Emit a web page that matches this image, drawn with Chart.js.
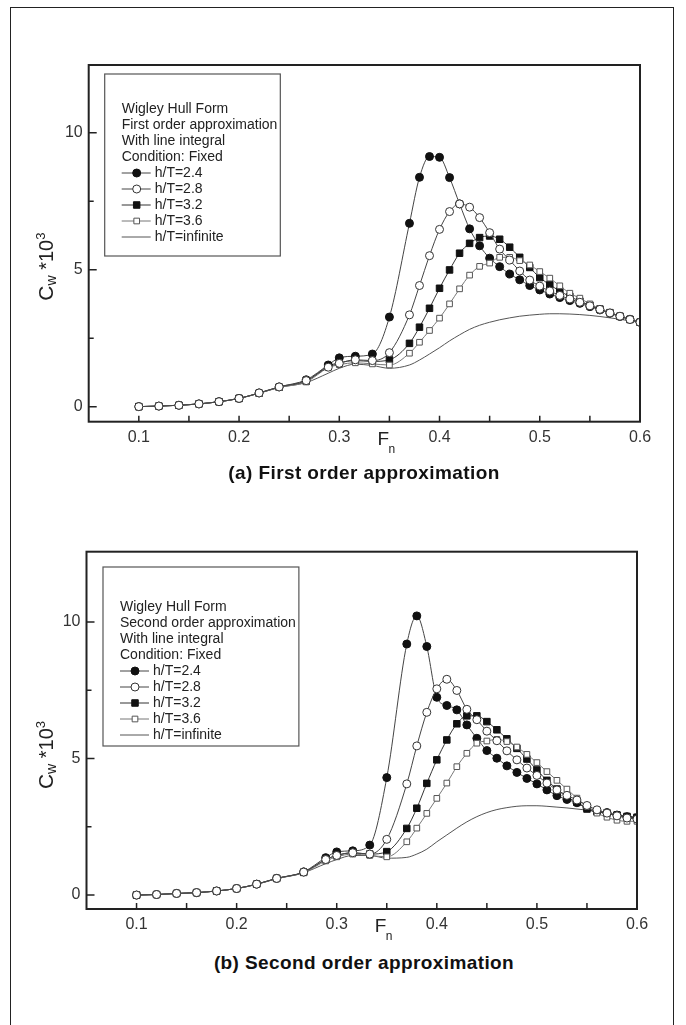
<!DOCTYPE html>
<html>
<head>
<meta charset="utf-8">
<script src="https://cdn.jsdelivr.net/npm/chart.js@4/dist/chart.umd.min.js"></script>
<style>
  body { margin: 0; background: #fff; }
  #page { position: relative; width: 686px; height: 1025px; overflow: hidden; background: #fff; }
  #frame { position: absolute; left: 10px; top: 7px; width: 662px; height: 1040px;
           border: 1.5px solid #222; border-bottom: none; }
  canvas { position: absolute; left: 0; }
  .caption { position: absolute; left: 88px; width: 552px; text-align: center; letter-spacing: 0.4px;
             font: bold 19px "Liberation Sans", Arial, sans-serif; color: #111; line-height: 22px; }
</style>
</head>
<body>
<div id="page">
  <div id="frame"></div>
  <canvas id="chartA" width="686" height="470" style="top:0"></canvas>
  <canvas id="chartB" width="686" height="470" style="top:480px"></canvas>
  <div class="caption" style="top:462px">(a) First order approximation</div>
  <div class="caption" style="top:952px">(b) Second order approximation</div>
</div>
<script>
// Froude numbers
const fn = [0.10, 0.12, 0.14, 0.16, 0.18, 0.20, 0.22, 0.24, 0.267, 0.289, 0.30, 0.316, 0.333, 0.35,
  0.37, 0.38, 0.39, 0.40, 0.41, 0.42, 0.43, 0.44, 0.45, 0.46, 0.47, 0.48, 0.49, 0.50,
  0.51, 0.52, 0.53, 0.54, 0.55, 0.56, 0.57, 0.58, 0.59, 0.60];

const seriesNames = ['h/T=2.4', 'h/T=2.8', 'h/T=3.2', 'h/T=3.6', 'h/T=infinite'];

// (a) first order approximation, Cw*10^3
const first24 = [0.00, 0.02, 0.05, 0.10, 0.18, 0.30, 0.50, 0.72, 0.98, 1.52, 1.78, 1.84, 1.92, 3.27,
  6.69, 8.37, 9.13, 9.10, 8.36, 7.40, 6.49, 5.87, 5.42, 5.11, 4.84, 4.63, 4.42, 4.26,
  4.11, 3.98, 3.87, 3.77, 3.65, 3.53, 3.41, 3.29, 3.19, 3.08];
const first28 = [0.00, 0.02, 0.05, 0.10, 0.18, 0.30, 0.50, 0.72, 0.95, 1.44, 1.58, 1.71, 1.68, 1.97,
  3.35, 4.42, 5.51, 6.47, 7.12, 7.40, 7.28, 6.90, 6.35, 5.75, 5.35, 4.95, 4.62, 4.40,
  4.22, 4.06, 3.93, 3.81, 3.68, 3.55, 3.42, 3.30, 3.18, 3.08];
const first32 = [0.00, 0.02, 0.05, 0.10, 0.18, 0.30, 0.49, 0.71, 0.93, 1.48, 1.60, 1.68, 1.65, 1.71,
  2.31, 2.90, 3.59, 4.32, 4.99, 5.60, 5.96, 6.17, 6.23, 6.11, 5.82, 5.45, 5.08, 4.71,
  4.45, 4.22, 4.02, 3.85, 3.70, 3.56, 3.43, 3.30, 3.18, 3.08];
const first36 = [0.00, 0.02, 0.05, 0.10, 0.18, 0.30, 0.49, 0.70, 0.90, 1.42, 1.53, 1.60, 1.56, 1.52,
  1.95, 2.35, 2.78, 3.23, 3.75, 4.30, 4.80, 5.12, 5.24, 5.45, 5.45, 5.33, 5.17, 4.93,
  4.69, 4.41, 4.14, 3.96, 3.75, 3.57, 3.41, 3.29, 3.18, 3.08];
const firstInf = [0.00, 0.02, 0.05, 0.10, 0.18, 0.30, 0.49, 0.70, 0.88, 1.22, 1.40, 1.55, 1.50, 1.40,
  1.52, 1.70, 1.92, 2.15, 2.40, 2.62, 2.82, 2.97, 3.08, 3.17, 3.24, 3.30, 3.34, 3.37,
  3.39, 3.39, 3.38, 3.36, 3.33, 3.29, 3.24, 3.19, 3.13, 3.07];

// (b) second order approximation
const second24 = [0.00, 0.02, 0.06, 0.09, 0.15, 0.24, 0.40, 0.61, 0.85, 1.37, 1.58, 1.62, 1.83, 4.30,
  9.19, 10.22, 9.10, 7.24, 6.94, 6.78, 6.23, 5.74, 5.29, 5.01, 4.73, 4.49, 4.27, 4.07,
  3.85, 3.64, 3.50, 3.38, 3.20, 3.08, 3.02, 2.93, 2.87, 2.83];
const second28 = [0.00, 0.02, 0.06, 0.09, 0.15, 0.24, 0.40, 0.61, 0.84, 1.30, 1.45, 1.55, 1.50, 2.04,
  4.07, 5.46, 6.69, 7.55, 7.90, 7.49, 6.80, 6.42, 6.00, 5.65, 5.28, 4.95, 4.65, 4.38,
  4.10, 3.85, 3.65, 3.48, 3.28, 3.12, 3.00, 2.90, 2.82, 2.78];
const second32 = [0.00, 0.02, 0.06, 0.09, 0.15, 0.24, 0.40, 0.61, 0.83, 1.30, 1.45, 1.55, 1.50, 1.59,
  2.44, 3.18, 4.09, 4.95, 5.68, 6.27, 6.56, 6.56, 6.35, 6.05, 5.72, 5.37, 4.98, 4.58,
  4.20, 3.88, 3.58, 3.40, 3.15, 3.05, 3.00, 2.93, 2.88, 2.85];
const second36 = [0.00, 0.02, 0.06, 0.09, 0.15, 0.24, 0.39, 0.60, 0.82, 1.25, 1.40, 1.50, 1.45, 1.40,
  1.95, 2.45, 2.99, 3.54, 4.10, 4.70, 5.19, 5.56, 5.64, 5.70, 5.62, 5.42, 5.15, 4.85,
  4.52, 4.20, 3.88, 3.55, 3.25, 3.00, 2.85, 2.74, 2.70, 2.70];
const secondInf = [0.00, 0.02, 0.05, 0.09, 0.15, 0.24, 0.39, 0.60, 0.82, 1.15, 1.30, 1.45, 1.45, 1.35,
  1.38, 1.50, 1.68, 1.95, 2.20, 2.45, 2.68, 2.87, 3.02, 3.13, 3.20, 3.25, 3.27, 3.27,
  3.25, 3.22, 3.19, 3.15, 3.11, 3.05, 2.98, 2.92, 2.86, 2.80];

const headerA = ['Wigley Hull Form', 'First order approximation', 'With line integral', 'Condition: Fixed'];
const headerB = ['Wigley Hull Form', 'Second order approximation', 'With line integral', 'Condition: Fixed'];

// tick positions (every one gets a tick mark, labelled ones get text)
const xTicks = [0.05, 0.10, 0.15, 0.20, 0.25, 0.30, 0.35, 0.40, 0.45, 0.50, 0.55, 0.60];
const xTickLabels = ['0.1', '0.2', '0.3', '0.4', '0.5', '0.6'];
const yTicks = [0, 2.5, 5, 7.5, 10];
const yTickLabels = ['0', '5', '10'];

const FONT = '"Liberation Sans", Arial, sans-serif';

// marker look per series
const styles = [
  { pointStyle: 'circle', pointRadius: 4, fill: '#111', stroke: '#111', line: '#444', order: 3 },
  { pointStyle: 'circle', pointRadius: 4, fill: '#fff', stroke: '#333', line: '#444', order: 1 },
  { pointStyle: 'rect', pointRadius: 4.6, fill: '#111', stroke: '#111', line: '#333', order: 4 },
  { pointStyle: 'rect', pointRadius: 4, fill: '#fff', stroke: '#555', line: '#777', order: 2 },
  { pointStyle: false, pointRadius: 0, fill: '#fff', stroke: '#444', line: '#555', order: 5 }
];

function marker(ctx, st, x, y) {
  if (!st.pointRadius) return;
  ctx.beginPath();
  if (st.pointStyle === 'circle') {
    ctx.arc(x, y, st.pointRadius, 0, Math.PI * 2);
  } else {
    const s = st.pointRadius / Math.SQRT2;
    ctx.rect(x - s, y - s, 2 * s, 2 * s);
  }
  ctx.fillStyle = st.fill;
  ctx.fill();
  ctx.lineWidth = 1;
  ctx.strokeStyle = st.stroke;
  ctx.stroke();
}

// frame, inward ticks, axis titles
const frameTicks = {
  id: 'frameTicks',
  afterDraw(chart) {
    const { ctx, chartArea: a, scales: { x, y } } = chart;
    ctx.save();
    ctx.strokeStyle = '#222';
    ctx.lineWidth = 2;
    ctx.strokeRect(a.left, a.top, a.right - a.left, a.bottom - a.top);
    ctx.lineWidth = 1.5;
    ctx.beginPath();
    x.ticks.forEach(t => {
      if (t.value <= 0.051 || t.value >= 0.599) return;
      const px = x.getPixelForValue(t.value);
      ctx.moveTo(px, a.bottom);
      ctx.lineTo(px, a.bottom - 6);
    });
    y.ticks.forEach(t => {
      const py = y.getPixelForValue(t.value);
      const len = t.value % 5 === 0 ? 8 : 5;
      ctx.moveTo(a.left, py);
      ctx.lineTo(a.left + len, py);
    });
    ctx.stroke();

    // F_n
    const fx = x.getPixelForValue(0.35);
    ctx.fillStyle = '#222';
    ctx.textBaseline = 'alphabetic';
    ctx.textAlign = 'left';
    ctx.font = '19px ' + FONT;
    ctx.fillText('F', fx - 12, a.bottom + 23);
    ctx.font = '12px ' + FONT;
    ctx.fillText('n', fx - 1, a.bottom + 31);

    // C_w *10^3, rotated
    const y0 = y.getPixelForValue(0) - 106;
    ctx.translate(48, y0);
    ctx.rotate(-Math.PI / 2);
    let cx = 0;
    const parts = [['C', 21, 5], ['w', 14, 8], [' *10', 20, 5], ['3', 13, -3]];
    parts.forEach(([s, size, base]) => {
      ctx.font = size + 'px ' + FONT;
      ctx.fillText(s, cx, base);
      cx += ctx.measureText(s).width;
    });
    ctx.restore();
  }
};

// legend box with header lines
const boxLegend = {
  id: 'boxLegend',
  afterDraw(chart, args, opts) {
    const { ctx, chartArea: a } = chart;
    const bx = a.left + opts.left, by = a.top + opts.top;
    const tx = bx + 17;
    ctx.save();
    ctx.font = '14px ' + FONT;
    let w = 0;
    opts.header.forEach(s => { w = Math.max(w, ctx.measureText(s).width); });
    const bw = 17 + w + 3;
    ctx.fillStyle = '#fff';
    ctx.fillRect(bx, by, bw, opts.height);
    ctx.strokeStyle = '#555';
    ctx.lineWidth = 1.2;
    ctx.strokeRect(bx, by, bw, opts.height);
    ctx.textBaseline = 'middle';
    let ly = by + opts.first;
    opts.header.forEach(s => { ctx.fillStyle = '#222'; ctx.fillText(s, tx, ly); ly += 16; });
    seriesNames.forEach((name, i) => {
      const st = styles[i];
      ctx.strokeStyle = st.line;
      ctx.lineWidth = 1;
      ctx.beginPath();
      ctx.moveTo(tx, ly);
      ctx.lineTo(tx + 29, ly);
      ctx.stroke();
      marker(ctx, st, tx + 15, ly);
      ctx.fillStyle = '#222';
      ctx.fillText(name, tx + 33, ly);
      ly += 16;
    });
    ctx.restore();
  }
};

function makeChart(id, values, header, lay) {
  const datasets = values.map((vals, i) => ({
    label: seriesNames[i],
    data: fn.map((f, j) => ({ x: f, y: vals[j] })),
    borderColor: styles[i].line,
    borderWidth: 1,
    backgroundColor: styles[i].fill,
    pointBorderColor: styles[i].stroke,
    pointBorderWidth: 1,
    pointStyle: styles[i].pointStyle,
    pointRadius: styles[i].pointRadius,
    cubicInterpolationMode: 'monotone',
    order: styles[i].order
  }));

  return new Chart(document.getElementById(id), {
    type: 'line',
    data: { datasets },
    options: {
      responsive: false,
      animation: false,
      devicePixelRatio: 1,
      layout: { padding: lay.padding },
      plugins: {
        legend: { display: false },
        tooltip: { enabled: false },
        boxLegend: { header, left: lay.boxLeft, top: lay.boxTop, height: lay.boxHeight, first: lay.first }
      },
      scales: {
        x: {
          type: 'linear', min: 0.05, max: 0.6,
          grid: { display: false, drawTicks: false },
          border: { display: false },
          afterFit: s => { s.height = 30; },
          afterBuildTicks: s => { s.ticks = xTicks.map(v => ({ value: v })); },
          ticks: {
            autoSkip: false, maxRotation: 0, padding: 6,
            color: '#333', font: { family: FONT, size: 16 },
            callback: v => {
              const s = v.toFixed(2).replace(/0$/, '');
              return xTickLabels.includes(s) ? s : '';
            }
          }
        },
        y: {
          min: lay.yMin, max: lay.yMax,
          grid: { display: false, drawTicks: false },
          border: { display: false },
          afterFit: s => { s.width = lay.plotLeft; },
          afterBuildTicks: s => { s.ticks = yTicks.map(v => ({ value: v })); },
          ticks: {
            autoSkip: false, padding: 6,
            color: '#333', font: { family: FONT, size: 16 },
            callback: v => {
              const s = String(v);
              return yTickLabels.includes(s) ? s : '';
            }
          }
        }
      }
    },
    plugins: [frameTicks, boxLegend]
  });
}

makeChart('chartA', [first24, first28, first32, first36, firstInf], headerA, {
  padding: { top: 65, right: 46, bottom: 18.3, left: 0 },
  plotLeft: 88.7, yMin: -0.55, yMax: 12.47,
  boxLeft: 16, boxTop: 9, boxHeight: 182, first: 35
});

makeChart('chartB', [second24, second28, second32, second36, secondInf], headerB, {
  padding: { top: 71.7, right: 49, bottom: 11, left: 0 },
  plotLeft: 86.5, yMin: -0.51, yMax: 12.57,
  boxLeft: 16.5, boxTop: 15.3, boxHeight: 179, first: 40
});
</script>
</body>
</html>
